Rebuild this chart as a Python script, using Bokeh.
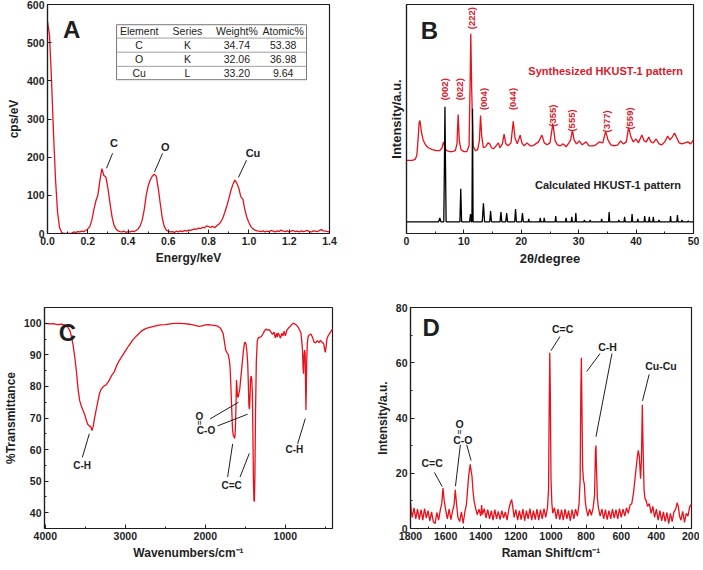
import numpy as np
from bokeh.plotting import figure
from bokeh.layouts import column, row
from bokeh.models import Range1d, FixedTicker, NumeralTickFormatter
from bokeh.core.properties import value
from bokeh.embed import file_html
from bokeh.resources import INLINE

FONT = "Liberation Sans"
RED = "#e8101a"
LRED = "#d8202c"
INK = "#1e1e1e"

# ---------------- Panel A : EDS ----------------
eds_energy = [round(0.01 * i, 2) for i in range(141)]
eds_counts = [
    555, 520, 400, 260, 140, 55, 15, 3, 0, 0,
    0, 0, 1, 4, 3, 5, 4, 6, 5, 8,
    12, 18, 35, 62, 85, 100, 138, 170, 152, 148,
    118, 80, 45, 22, 12, 7, 5, 4, 6, 3,
    5, 4, 6, 5, 8, 12, 20, 35, 62, 100,
    125, 140, 150, 155, 150, 118, 78, 40, 18, 9,
    6, 4, 5, 3, 6, 4, 7, 5, 8, 6,
    9, 8, 10, 12, 11, 14, 13, 16, 15, 20,
    18, 16, 19, 15, 20, 24, 30, 40, 55, 72,
    90, 112, 128, 140, 132, 118, 96, 90, 62, 42,
    28, 18, 12, 9, 7, 6, 5, 7, 4, 6,
    5, 8, 6, 4, 7, 5, 9, 6, 5, 7,
    4, 6, 8, 5, 6, 4, 7, 5, 6, 8,
    5, 4, 7, 6, 5, 8, 10, 7, 6, 5,
    4]
table_header = ["Element", "Series", "Weight%", "Atomic%"]
table_element = ["C", "O", "Cu"]
table_series = ["K", "K", "L"]
table_weight = ["34.74", "32.06", "33.20"]
table_atomic = ["53.38", "36.98", "9.64"]
eds_peak_names = ["C", "O", "Cu"]

# ---------------- Panel B : XRD ----------------
synth_2theta = [
    0.0, 0.5, 1.0, 1.5, 1.8, 2.0, 2.2, 2.35, 2.6, 2.9,
    3.3, 3.8, 4.5, 5.2, 5.8, 6.2, 6.45, 6.7, 7.0, 7.5,
    8.0, 8.5, 8.8, 9.0, 9.2, 9.5, 10.0, 10.5, 10.9, 11.1,
    11.2, 11.35, 11.6, 12.0, 12.4, 12.7, 12.9, 13.1, 13.4, 13.8,
    14.2, 14.5, 14.8, 15.2, 15.6, 16.0, 16.3, 16.7, 17.0, 17.3,
    17.7, 18.2, 18.6, 18.9, 19.3, 19.8, 20.1, 20.5, 21.0, 21.5,
    22.0, 22.5, 23.0, 23.6, 24.0, 24.5, 25.0, 25.5, 25.9, 26.3,
    26.8, 27.3, 27.8, 28.3, 28.6, 28.9, 29.2, 29.6, 30.1, 30.6,
    31.3, 31.8, 32.5, 33.0, 33.6, 34.2, 34.7, 35.1, 35.6, 36.2,
    36.8, 37.3, 37.8, 38.3, 38.7, 39.1, 39.5, 40.0, 40.4, 41.0,
    41.4, 41.8, 42.2, 42.6, 43.0, 43.5, 44.0, 44.5, 45.0, 45.5,
    45.9, 46.3, 46.7, 47.1, 47.5, 48.0, 48.5, 49.0, 49.5, 50.0]
synth_int = [
    75, 75, 75, 76, 80, 95, 114, 116, 104, 96,
    91, 88, 86, 85, 85, 88, 94, 88, 85, 84,
    84, 85, 92, 122, 95, 86, 84, 84, 90, 160,
    205, 150, 90, 85, 86, 95, 121, 100, 88, 89,
    93, 92, 88, 87, 90, 93, 88, 92, 102, 92,
    90, 93, 115, 98, 92, 101, 93, 90, 93, 90,
    90, 92, 94, 101, 93, 91, 93, 113, 95, 91,
    90, 92, 89, 93, 96, 106, 96, 92, 95, 91,
    94, 90, 90, 91, 94, 93, 105, 96, 91, 90,
    91, 95, 92, 94, 109, 99, 94, 97, 93, 101,
    95, 94, 99, 94, 93, 97, 92, 91, 94, 100,
    96, 99, 103, 98, 93, 92, 93, 94, 92, 96]
calc_2theta = [
    0, 5.6, 5.8, 6.0, 6.5, 6.62, 6.7, 6.78, 6.9, 9.3,
    9.45, 9.6, 11.0, 11.15, 11.3, 11.4, 11.5, 11.6, 13.2, 13.4,
    13.6, 14.5, 14.65, 14.8, 16.3, 16.45, 16.6, 17.3, 17.45, 17.6,
    18.85, 19.0, 19.15, 20.05, 20.2, 20.35, 21.2, 21.3, 21.4, 23.2,
    23.3, 23.4, 23.9, 24.0, 24.1, 25.9, 26.0, 26.1, 27.7, 27.8,
    27.9, 28.7, 28.8, 28.9, 29.4, 29.5, 29.6, 30.9, 31.0, 31.1,
    31.9, 32.0, 32.1, 33.9, 34.0, 34.1, 35.2, 35.3, 35.4, 36.9,
    37.0, 37.1, 37.9, 38.0, 38.1, 39.2, 39.3, 39.4, 40.2, 40.3,
    40.4, 41.4, 41.5, 41.6, 42.2, 42.3, 42.4, 42.9, 43.0, 43.1,
    43.9, 44.0, 44.1, 45.9, 46.0, 46.1, 47.1, 47.2, 47.3, 47.9,
    48.0, 48.1, 49.0, 49.1, 49.2, 50.0]
calc_int = [
    12, 12, 16, 12, 12, 80, 130, 80, 12, 12,
    46, 12, 12, 20, 12, 12, 128, 12, 12, 31,
    12, 12, 23, 12, 12, 22, 12, 12, 21, 12,
    12, 25, 12, 12, 21, 12, 12, 15, 12, 12,
    16, 12, 12, 16, 12, 12, 18, 12, 12, 16,
    12, 12, 17, 12, 12, 21, 12, 12, 14, 12,
    12, 14, 12, 12, 15, 12, 12, 22, 12, 12,
    14, 12, 12, 17, 12, 12, 20, 12, 12, 15,
    12, 12, 18, 12, 12, 17, 12, 12, 17, 12,
    12, 14, 12, 12, 18, 12, 12, 19, 12, 12,
    14, 12, 12, 13, 12, 12]
hkl_labels = ["(002)", "(022)", "(222)", "(004)", "(044)", "(355)", "(555)", "(377)", "(559)"]
hkl_2theta = [6.6, 9.25, 11.4, 13.5, 18.5, 25.5, 28.8, 34.9, 38.8]
hkl_int = [148, 148, 221, 138, 138, 121, 116, 115, 118]

# ---------------- Panel C : FTIR ----------------
ir_wavenumber = [
    4000, 3950, 3900, 3850, 3800, 3760, 3720, 3690, 3670, 3650,
    3630, 3610, 3590, 3570, 3550, 3530, 3510, 3490, 3470, 3450,
    3430, 3417, 3400, 3385, 3365, 3345, 3325, 3305, 3280, 3260,
    3240, 3220, 3200, 3170, 3140, 3110, 3080, 3050, 3010, 2960,
    2910, 2860, 2800, 2740, 2680, 2620, 2560, 2500, 2440, 2380,
    2320, 2260, 2200, 2140, 2080, 2040, 2000, 1960, 1920, 1880,
    1840, 1810, 1790, 1775, 1760, 1745, 1730, 1715, 1700, 1690,
    1680, 1670, 1660, 1650, 1640, 1632, 1625, 1618, 1610, 1604,
    1598, 1590, 1582, 1570, 1555, 1540, 1525, 1510, 1500, 1490,
    1480, 1470, 1462, 1455, 1448, 1442, 1435, 1428, 1420, 1412,
    1405, 1398, 1392, 1386, 1380, 1372, 1362, 1350, 1335, 1320,
    1300, 1280, 1260, 1240, 1220, 1200, 1180, 1160, 1140, 1125,
    1110, 1100, 1090, 1075, 1060, 1045, 1030, 1015, 1000, 980,
    960, 940, 920, 900, 880, 860, 840, 820, 805, 795,
    785, 778, 772, 765, 758, 752, 746, 742, 738, 732,
    725, 715, 700, 680, 660, 640, 620, 600, 580, 560,
    540, 520, 510, 500, 490, 480, 465, 450, 435, 420,
    405]
ir_transmittance = [
    100.0, 99.8, 99.9, 99.6, 99.7, 99.4, 98.8, 97.5, 95.5, 92.7,
    89.0, 84.5, 79.0, 75.5, 73.8, 72.5, 71.3, 69.5, 68.0, 67.5,
    67.2, 66.0, 67.5, 69.8, 72.5, 75.0, 77.5, 79.0, 79.8, 80.2,
    80.5, 81.2, 82.0, 83.5, 84.5, 86.5, 88.0, 89.2, 90.8, 92.8,
    94.6, 96.0, 97.5, 98.4, 98.8, 99.2, 99.5, 99.6, 99.8, 100.0,
    100.0, 99.9, 99.7, 99.4, 99.0, 99.2, 99.5, 99.6, 99.4, 99.3,
    99.0, 98.4, 97.5, 96.5, 94.0, 91.5, 90.8, 90.2, 88.5, 86.0,
    80.0, 73.0, 66.5, 64.5, 64.0, 63.5, 66.0, 72.0, 82.0, 80.0,
    77.0, 76.5, 77.5, 79.0, 83.0, 87.0, 91.0, 93.8, 94.0, 93.2,
    91.0, 87.5, 81.0, 74.0, 72.8, 76.0, 82.0, 83.3, 82.5, 78.0,
    65.0, 50.0, 44.0, 43.5, 52.0, 72.0, 88.0, 94.5, 95.5, 95.5,
    95.8, 96.6, 97.6, 98.2, 97.8, 98.0, 97.3, 96.5, 97.2, 95.4,
    96.8, 95.6, 97.0, 96.2, 95.3, 96.8, 96.0, 97.5, 96.0, 97.8,
    98.5, 99.0, 99.6, 100.0, 99.8, 99.4, 98.8, 97.8, 97.0, 94.5,
    91.5, 86.0, 84.0, 90.0, 91.5, 90.5, 80.0, 72.5, 78.0, 88.0,
    93.5, 95.8, 96.3, 96.6, 95.6, 94.0, 93.8, 94.5, 93.9, 94.6,
    94.0, 93.6, 92.0, 90.8, 92.5, 95.0, 96.0, 96.6, 97.2, 97.8,
    98.2]

# ---------------- Panel D : Raman ----------------
raman_shift = [
    1800, 1795, 1790, 1780, 1770, 1760, 1750, 1740, 1730, 1720,
    1710, 1700, 1690, 1680, 1670, 1660, 1650, 1640, 1630, 1622,
    1615, 1608, 1600, 1590, 1580, 1570, 1560, 1552, 1545, 1538,
    1530, 1520, 1510, 1500, 1490, 1482, 1475, 1468, 1460, 1455,
    1450, 1444, 1438, 1430, 1420, 1410, 1400, 1395, 1390, 1380,
    1370, 1360, 1350, 1340, 1330, 1320, 1310, 1300, 1290, 1280,
    1270, 1260, 1250, 1240, 1230, 1224, 1218, 1210, 1200, 1190,
    1180, 1170, 1160, 1150, 1140, 1130, 1120, 1110, 1100, 1090,
    1080, 1070, 1060, 1050, 1040, 1030, 1020, 1014, 1010, 1007,
    1004, 1000, 995, 990, 980, 970, 960, 950, 940, 930,
    920, 910, 900, 890, 880, 870, 860, 850, 840, 834,
    830, 827, 824, 820, 815, 810, 805, 800, 790, 780,
    770, 760, 752, 747, 744, 741, 736, 730, 720, 710,
    700, 690, 680, 670, 660, 650, 640, 630, 620, 610,
    600, 590, 580, 570, 560, 550, 540, 530, 520, 510,
    503, 497, 490, 485, 480, 476, 470, 465, 458, 450,
    440, 430, 420, 410, 400, 390, 380, 370, 360, 350,
    340, 330, 320, 310, 300, 290, 282, 275, 268, 260,
    250, 240, 230, 220, 210, 200]
raman_int = [
    9.5, 6.0, 4.0, 7.5, 3.5, 7.0, 3.2, 6.8, 3.0, 7.2,
    3.8, 6.5, 2.8, 6.0, 2.4, 1.8, 5.8, 3.0, 6.8, 9.0,
    14.6, 10.0, 6.8, 3.5, 7.0, 3.2, 6.5, 8.5, 14.0, 9.0,
    4.0, 2.5, 6.0, 1.8, 6.2, 8.5, 14.0, 19.5, 23.2, 21.0,
    19.0, 13.5, 10.0, 7.5, 5.0, 7.0, 4.5, 8.5, 5.0, 7.2,
    3.8, 6.8, 3.5, 6.5, 3.0, 6.8, 3.5, 6.2, 3.2, 6.5,
    3.8, 6.0, 3.0, 7.0, 9.5, 10.5, 8.0, 4.0, 6.8, 3.0,
    6.5, 3.2, 7.0, 2.8, 6.5, 3.5, 7.2, 3.0, 6.5, 3.2,
    7.0, 3.0, 6.8, 3.5, 7.2, 4.0, 7.5, 14.0, 45.0, 63.6,
    50.0, 18.0, 9.0, 5.5, 7.5, 3.5, 7.0, 3.2, 6.8, 3.0,
    7.0, 3.5, 6.5, 2.8, 6.8, 3.5, 7.0, 4.5, 9.0, 18.0,
    50.0, 61.8, 45.0, 22.0, 17.5, 16.0, 10.0, 7.5, 4.5, 7.0,
    4.8, 7.5, 12.0, 28.0, 30.0, 22.0, 11.0, 7.5, 4.5, 7.0,
    3.5, 6.8, 3.2, 6.5, 3.5, 7.0, 3.8, 6.8, 3.5, 7.2,
    4.0, 7.0, 4.5, 7.5, 5.5, 8.5, 9.0, 13.0, 19.0, 25.0,
    28.3, 26.0, 18.0, 25.0, 44.8, 30.0, 14.0, 11.0, 10.0, 8.0,
    9.0, 5.5, 8.0, 4.0, 7.0, 3.0, 6.5, 2.8, 6.0, 2.5,
    5.8, 1.8, 5.5, 2.5, 6.0, 7.0, 9.3, 8.0, 4.5, 3.0,
    6.2, 2.2, 5.5, 4.5, 8.0, 8.7]


def make_fig(width, height, xr, yr, bl, br, bt, bb):
    p = figure(width=width, height=height, x_range=xr, y_range=yr,
               output_backend="svg", toolbar_location=None,
               min_border_left=bl, min_border_right=br,
               min_border_top=bt, min_border_bottom=bb)
    p.outline_line_color = INK
    p.outline_line_width = 1.2
    p.outline_line_alpha = 1
    p.grid.visible = False
    for ax in (p.xaxis[0], p.yaxis[0]):
        ax.axis_line_color = INK
        ax.axis_line_width = 1.2
        ax.major_tick_in = 4
        ax.major_tick_out = 0
        ax.minor_tick_in = 2
        ax.minor_tick_out = 0
        ax.major_tick_line_color = INK
        ax.minor_tick_line_color = INK
        ax.major_label_text_font = FONT
        ax.major_label_text_font_style = "bold"
        ax.major_label_text_font_size = "10.5px"
        ax.major_label_text_color = INK
        ax.axis_label_text_font = FONT
        ax.axis_label_text_font_style = "bold"
        ax.axis_label_text_font_size = "12px"
        ax.axis_label_text_color = INK
        ax.major_label_standoff = 3
        ax.axis_label_standoff = 3
    return p


def txt(p, xs, ys, texts, size="10.5px", color=INK, style="bold", angle=0.0, align="center"):
    p.text(x=xs, y=ys, text=texts, angle=angle, text_font=value(FONT),
           text_font_style=style, text_font_size=size, text_color=color,
           text_align=align, text_baseline="middle")


# ---------- A ----------
pA = make_fig(349, 279, Range1d(0, 1.4), Range1d(0, 600), 47, 20, 4, 46)
pA.xaxis.ticker = FixedTicker(ticks=[0, 0.2, 0.4, 0.6, 0.8, 1.0, 1.2, 1.4],
                              minor_ticks=[0.1, 0.3, 0.5, 0.7, 0.9, 1.1, 1.3])
pA.xaxis.formatter = NumeralTickFormatter(format="0.0")
pA.yaxis.ticker = FixedTicker(ticks=[0, 100, 200, 300, 400, 500, 600], minor_ticks=[])
pA.xaxis.axis_label = "Energy/keV"
pA.yaxis.axis_label = "cps/eV"
pA.line(eds_energy, eds_counts, line_color=RED, line_width=1.3)
# table
tx = [0.343, 1.286]
ty = [547, 512, 475, 438, 403]
pA.quad(left=[tx[0]], right=[tx[1]], top=[ty[0]], bottom=[ty[-1]],
        fill_color="white", line_color="#777", line_width=1)
pA.segment(x0=[tx[0]] * 3, x1=[tx[1]] * 3, y0=ty[1:4], y1=ty[1:4], line_color="#888", line_width=0.8)
colx = [0.455, 0.695, 0.94, 1.17]
hy = (ty[0] + ty[1]) / 2
txt(pA, colx, [hy] * 4, table_header, size="10.5px", color="#222", style="normal")
rows_y = [(ty[i] + ty[i + 1]) / 2 for i in range(1, 4)]
for cx, col in zip(colx, [table_element, table_series, table_weight, table_atomic]):
    txt(pA, [cx] * 3, rows_y, col, size="10.5px", color="#222", style="normal")
txt(pA, [0.33, 0.585, 1.02], [237, 226, 210], eds_peak_names, size="11px")
pA.segment(x0=[0.293, 0.531, 0.948], y0=[171, 161, 147], x1=[0.323, 0.571, 0.988], y1=[210, 210, 192],
           line_color=INK, line_width=1)
txt(pA, [0.12], [535], ["A"], size="24px")

# ---------- B ----------
pB = make_fig(350, 279, Range1d(0, 50), Range1d(0, 235), 57, 6, 2, 41)
pB.xaxis.ticker = FixedTicker(ticks=[0, 10, 20, 30, 40, 50], minor_ticks=[5, 15, 25, 35, 45])
pB.yaxis.ticker = FixedTicker(ticks=[], minor_ticks=[])
pB.xaxis.axis_label = "2θ/degree"
pB.yaxis.axis_label = "Intensity/a.u."
pB.yaxis.axis_label_text_font_size = "13px"
pB.xaxis.axis_label_text_font_size = "13px"
pB.line(synth_2theta, synth_int, line_color=RED, line_width=1.3)
pB.line(calc_2theta, calc_int, line_color="black", line_width=1.3)
txt(pB, hkl_2theta, hkl_int, hkl_labels, size="9.5px", color=LRED, angle=np.pi / 2)
txt(pB, [34.7], [167], ["Synthesized HKUST-1 pattern"], size="11px", color=LRED)
txt(pB, [35.1], [50], ["Calculated HKUST-1 pattern"], size="11px", color=INK)
txt(pB, [4.0], [208], ["B"], size="24px")

# ---------- C ----------
pC = make_fig(349, 283, Range1d(4010, 410), Range1d(35, 105), 44, 17, 23, 28)
pC.xaxis.ticker = FixedTicker(ticks=[4000, 3000, 2000, 1000], minor_ticks=[3500, 2500, 1500, 500])
pC.yaxis.ticker = FixedTicker(ticks=[40, 50, 60, 70, 80, 90, 100], minor_ticks=[45, 55, 65, 75, 85, 95])
pC.xaxis.axis_label = "Wavenumbers/cm⁻¹"
pC.yaxis.axis_label = "%Transmittance"
pC.line(ir_wavenumber, ir_transmittance, line_color=RED, line_width=1.3)
txt(pC, [3540, 1671, 887], [55.1, 48.7, 60.0], ["C-H", "C=C", "C-H"], size="10px")
txt(pC, [2075], [70.6], ["O"], size="10px")
txt(pC, [2075], [68.5], ["="], size="8px", angle=np.pi / 2)
txt(pC, [1991], [66.1], ["C-O"], size="10px")
pC.segment(x0=[3450, 1941, 1846, 1658, 1450, 750],
           y0=[65.0, 69.7, 67.5, 61.8, 58.8, 69.8],
           x1=[3537, 1584, 1471, 1721, 1566, 846],
           y1=[57.5, 75.0, 71.2, 51.3, 51.3, 61.8], line_color=INK, line_width=1)
txt(pC, [3725], [97], ["C"], size="24px")

# ---------- D ----------
pD = make_fig(350, 283, Range1d(1800, 200), Range1d(0, 80), 61, 8, 28, 29)
pD.xaxis.ticker = FixedTicker(ticks=[1800, 1600, 1400, 1200, 1000, 800, 600, 400, 200],
                              minor_ticks=[1700, 1500, 1300, 1100, 900, 700, 500, 300])
pD.yaxis.ticker = FixedTicker(ticks=[0, 20, 40, 60, 80], minor_ticks=[10, 30, 50, 70])
pD.xaxis.axis_label = "Raman Shift/cm⁻¹"
pD.yaxis.axis_label = "Intensity/a.u."
pD.line(raman_shift, raman_int, line_color=RED, line_width=1.3)
txt(pD, [934, 678, 374, 1677], [72.3, 65.8, 58.9, 23.8], ["C=C", "C-H", "Cu-Cu", "C=C"], size="10.5px")
txt(pD, [1521], [38.0], ["O"], size="10.5px")
txt(pD, [1521], [35.0], ["="], size="8px", angle=np.pi / 2)
txt(pD, [1502], [31.9], ["C-O"], size="10.5px")
pD.segment(x0=[1000, 797, 744, 479, 1664, 1516, 1480],
           y0=[64.4, 56.8, 33.2, 46.2, 20.3, 30.3, 30.3],
           x1=[949, 721, 653, 441, 1620, 1544, 1455],
           y1=[69.5, 63.3, 63.3, 55.8, 15.2, 15.3, 24.6], line_color=INK, line_width=1)
txt(pD, [1682], [72.7], ["D"], size="24px")

layout = column(row(pA, pB), row(pC, pD))
open("out.html", "w").write(file_html(layout, INLINE))
